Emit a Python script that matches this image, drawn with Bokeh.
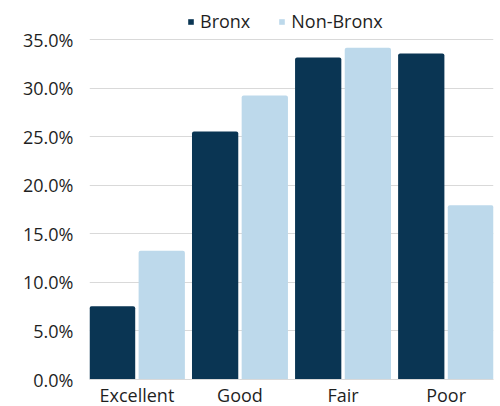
from bokeh.plotting import figure
from bokeh.models import FactorRange, ColumnDataSource, NumeralTickFormatter, Legend, LegendItem, FixedTicker
from bokeh.transform import dodge
from bokeh.embed import file_html
from bokeh.resources import INLINE

categories = ["Excellent", "Good", "Fair", "Poor"]
bronx = [0.0755, 0.2556, 0.3319, 0.3360]
non_bronx = [0.1326, 0.2927, 0.3418, 0.1797]
series = ["Bronx", "Non-Bronx"]
y_ticks = [0.0, 0.05, 0.10, 0.15, 0.20, 0.25, 0.30, 0.35]

DARK = "#0A3553"
LIGHT = "#BDD9EB"
FONT = "Open Sans"
TXT = "#1F1F1F"

src = ColumnDataSource(dict(cat=categories, bronx=bronx, non_bronx=non_bronx))

# frame spans the whole height above the x axis; the legend sits in the headroom above 35%
p = figure(x_range=FactorRange(*categories, range_padding=-0.02), y_range=(0, 0.3906),
           frame_width=404, frame_height=379, output_backend="svg", toolbar_location=None,
           min_border_left=89, min_border_right=7, min_border_top=0, min_border_bottom=10)
p.outline_line_color = None

r1 = p.vbar(x=dodge("cat", -0.241, range=p.x_range), top="bronx", width=0.449, source=src,
            fill_color=DARK, line_color=None, border_radius=(2, 2, 0, 0))
r2 = p.vbar(x=dodge("cat", 0.241, range=p.x_range), top="non_bronx", width=0.449, source=src,
            fill_color=LIGHT, line_color=None, border_radius=(2, 2, 0, 0))

p.yaxis.ticker = FixedTicker(ticks=y_ticks)
p.yaxis.formatter = NumeralTickFormatter(format="0.0%")
p.yaxis.axis_line_color = None
p.yaxis.major_tick_line_color = None
p.yaxis.minor_tick_line_color = None
p.yaxis.major_tick_out = 0
p.xaxis.axis_line_color = "#D9D9D9"
p.xaxis.major_tick_line_color = None
p.xaxis.minor_tick_line_color = None
p.xaxis.major_tick_out = 0
p.xaxis.major_label_text_font = FONT
p.xaxis.major_label_text_font_size = "18px"
p.xaxis.major_label_text_color = TXT
p.yaxis.major_label_text_font = FONT
p.yaxis.major_label_text_font_size = "18px"
p.yaxis.major_label_text_color = TXT
p.yaxis.major_label_standoff = 16
p.xaxis.major_label_standoff = 3
p.xgrid.grid_line_color = None
p.ygrid.grid_line_color = "#D9D9D9"

legend = Legend(items=[LegendItem(label=series[0], renderers=[r1]),
                       LegendItem(label=series[1], renderers=[r2])],
                orientation="horizontal", location=(98, 346),
                label_text_font=FONT, label_text_font_size="18px", label_text_color=TXT,
                glyph_width=7, glyph_height=7, label_standoff=6, spacing=28,
                padding=0, margin=0, border_line_color=None, background_fill_alpha=0)
p.add_layout(legend, "center")

open("out.html", "w").write(file_html(p, INLINE))
